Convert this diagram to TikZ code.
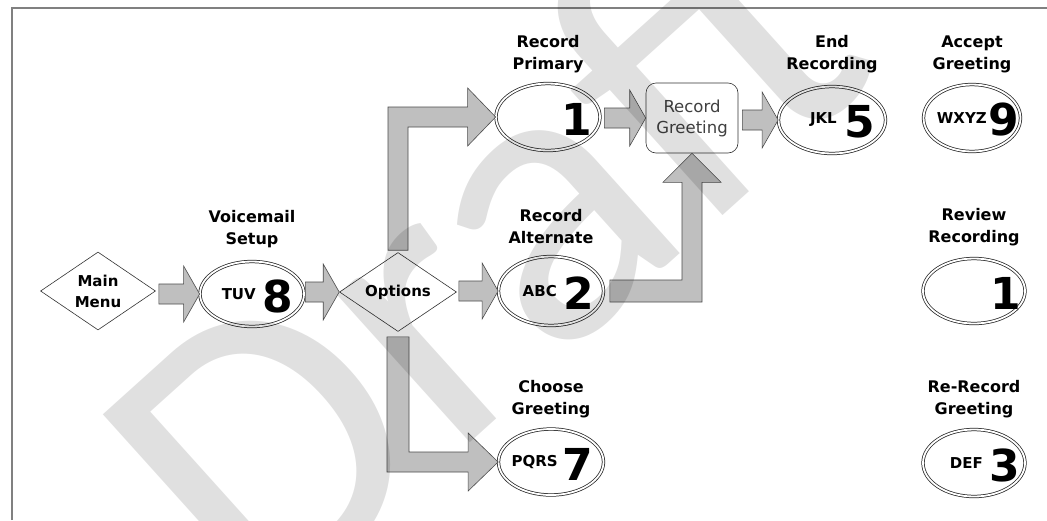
\documentclass[tikz,border=0pt]{standalone}
\usepackage{fontspec}
\setmainfont{DejaVu Sans}
\newfontfamily\wmfont{Carlito}
\usetikzlibrary{shapes.geometric,calc}
\newcommand\harrow[2]{\draw[barrow] let \p1=(#1), \p2=(#2) in
  (\x1,\y2+10pt) -- (\x2-16pt,\y2+10pt) -- (\x2-16pt,\y2+28pt) -- (\p2)
  -- (\x2-16pt,\y2-28pt) -- (\x2-16pt,\y2-10pt) -- (\x1,\y2-10pt) -- cycle;}
\begin{document}
\begin{tikzpicture}[x=1pt,y=-1pt,
  lbl/.style={font=\bfseries\fontsize{16}{22}\selectfont, align=center, inner sep=0},
  key/.style={ellipse, draw=black!85, line width=0.75pt, double=white, double distance=1.8pt, inner sep=0},
  dg/.style={font=\bfseries\fontsize{44}{44}\selectfont, inner sep=0, anchor=east},
  lt/.style={font=\bfseries\fontsize{15}{15}\selectfont, inner sep=0, anchor=east},
  dia/.style={diamond, draw=black!80, fill=white, line width=0.6pt, aspect=1.5, inner sep=0, font=\bfseries\fontsize{15}{21}\selectfont, align=center},
  barrow/.style={draw=black!70, fill=black!25, line width=0.6pt, line join=miter},
  frame/.style={draw=black!50, line width=2.5pt}
]
\useasboundingbox (0,0) rectangle (1047,520);
\fill[white] (0,0) rectangle (1047,520);
\draw[frame] (12,520) -- (12,8) -- (1047,8);

% nodes
\node[dia, minimum width=115, minimum height=78] (mm) at (98,291) {Main\\Menu};
\node[key, minimum width=104, minimum height=65] (k8) at (252,294) {};
\node[dia, minimum width=117, minimum height=79] (opt) at (398,292) {Options};
\node[key, minimum width=104, minimum height=67] (k1) at (548,117) {};
\node[draw=black!80, rounded corners=10pt, line width=0.6pt, minimum width=92, minimum height=70,
      align=center, font=\fontsize{16.5}{21}\selectfont, text=black!75, inner sep=0] (rg) at (692,118) {Record\\Greeting};
\node[key, minimum width=107, minimum height=67] (k5) at (832,120) {};
\node[key, minimum width=97, minimum height=67] (k9) at (972,118) {};
\node[key, minimum width=105, minimum height=69] (k2) at (551,291) {};
\node[key, minimum width=105, minimum height=66] (k7) at (551,462) {};
\node[key, minimum width=102, minimum height=65] (kr) at (974,291) {};
\node[key, minimum width=102, minimum height=67] (k3) at (974,463) {};

% digits and letters
\node[dg] (d8) at ($(k8.center)+(41,2)$) {8};
\node[lt] (t8) at ($(d8.west)+(-6,-2)$) {TUV};
\node[dg] (d1) at ($(k1.center)+(44,2)$) {1};
\node[dg] (d5) at ($(k5.center)+(43,2)$) {5};
\node[lt] (t5) at ($(d5.west)+(-7,-2)$) {JKL};
\node[dg] (d9) at ($(k9.center)+(47,2)$) {9};
\node[lt] (t9) at ($(d9.west)+(-1,-2)$) {WXYZ};
\node[dg] (d2) at ($(k2.center)+(43,2)$) {2};
\node[lt] (t2) at ($(d2.west)+(-6,-2)$) {ABC};
\node[dg] (d7) at ($(k7.center)+(42,2)$) {7};
\node[lt] (t7) at ($(d7.west)+(-4,-2)$) {PQRS};
\node[dg] (dr) at ($(kr.center)+(47,2)$) {1};
\node[dg] (d3) at ($(k3.center)+(46,2)$) {3};
\node[lt] (t3) at ($(d3.west)+(-6,-2)$) {DEF};

% labels
\node[lbl] (l8) at ($(k8.center)+(0,-65)$) {Voicemail\\Setup};
\node[lbl] (l1) at ($(k1.center)+(0,-63)$) {Record\\Primary};
\node[lbl] (l5) at ($(k5.center)+(0,-66)$) {End\\Recording};
\node[lbl] (l9) at ($(k9.center)+(0,-64)$) {Accept\\Greeting};
\node[lbl] (l2) at ($(k2.center)+(0,-64)$) {Record\\Alternate};
\node[lbl] (l7) at ($(k7.center)+(0,-63)$) {Choose\\Greeting};
\node[lbl] (lr) at ($(kr.center)+(0,-64)$) {Review\\Recording};
\node[lbl] (l3) at ($(k3.center)+(0,-64)$) {Re-Record\\Greeting};

% straight block arrows
\harrow{$(mm.east)+(3,0)$}{k8.west}
\harrow{$(k8.east)+(1,0)$}{opt.west}
\harrow{$(opt.east)+(2,0)$}{k2.west}
\harrow{$(k1.east)+(4,0)$}{rg.west}
\harrow{$(rg.east)+(4,0)$}{k5.west}

% bent block arrows
\draw[barrow] let \p1=($(opt.north)+(0,-2)$), \p2=(k1.west) in
  (\x1-10pt,\y1) -- (\x1-10pt,\y2+10pt) -- (\x2-28pt,\y2+10pt) -- (\x2-28pt,\y2+29pt) -- (\p2)
  -- (\x2-28pt,\y2-29pt) -- (\x2-28pt,\y2-10pt) -- (\x1+10pt,\y2-10pt) -- (\x1+10pt,\y1) -- cycle;
\draw[barrow] let \p1=($(opt.south)+(0,5)$), \p2=(k7.west) in
  (\x1-11pt,\y1) -- (\x1-11pt,\y2-10pt) -- (\x2-30pt,\y2-10pt) -- (\x2-30pt,\y2-29pt) -- (\p2)
  -- (\x2-30pt,\y2+29pt) -- (\x2-30pt,\y2+10pt) -- (\x1+11pt,\y2+10pt) -- (\x1+11pt,\y1) -- cycle;
\draw[barrow] let \p1=($(k2.east)+(6,0)$), \p2=(rg.south) in
  (\x1,\y1+11pt) -- (\x2-10pt,\y1+11pt) -- (\x2-10pt,\y2-29pt) -- (\x2-29pt,\y2-29pt) -- (\p2)
  -- (\x2+29pt,\y2-29pt) -- (\x2+10pt,\y2-29pt) -- (\x2+10pt,\y1-11pt) -- (\x1,\y1-11pt) -- cycle;

% watermark
\begin{scope}
\clip (0,0) rectangle (1047,520);
\node[rotate=42, text=black, opacity=0.12, inner sep=0,
      font=\wmfont\fontsize{415}{415}\selectfont] (wm) at (480,245) {Draft};
\end{scope}
\end{tikzpicture}
\end{document}
